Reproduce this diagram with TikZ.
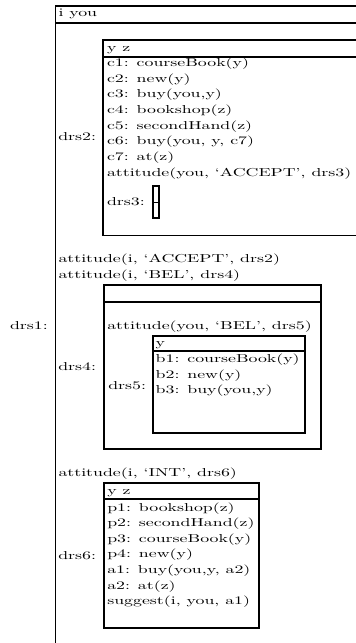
\documentclass[tikz,border=0pt]{standalone}
\usepackage{fontspec}
\setmainfont{lmroman10-regular.otf}[FakeStretch=1.55]
\begin{document}
\begin{tikzpicture}[x=1pt,y=-1pt,line width=1.8pt,
  txt/.style={anchor=base west,inner sep=0pt,outer sep=0pt,font=\fontsize{11.5}{13}\selectfont},
  box/.style={draw,line width=1.8pt}]
\useasboundingbox (0,0) rectangle (356,643);
\clip (0,0) rectangle (356,643);
% drs1 outer box
\draw[box] (380,5.8) -- (55.5,5.8) -- (55.5,670);
\draw[box] (55.5,22.7) -- (380,22.7);
\node[txt] (h1) at (58.5,16) {i you};
\node[txt] (l1) at (10,329) {drs1:};
% drs2
\draw[box] (380,40) -- (103.3,40) -- (103.3,235.5) -- (380,235.5);
\draw[box] (103.3,56.7) -- (380,56.7);
\node[txt] (l2) at (58.3,140.7) {drs2:};
\node[txt] (h2) at (107,51) {y z};
\node[txt] (c1) at (107,66.5) {c1: courseBook(y)};
\node[txt] (c2) at (107,82.2) {c2: new(y)};
\node[txt] (c3) at (107,97.8) {c3: buy(you,y)};
\node[txt] (c4) at (107,113.5) {c4: bookshop(z)};
\node[txt] (c5) at (107,129.1) {c5: secondHand(z)};
\node[txt] (c6) at (107,144.8) {c6: buy(you, y, c7)};
\node[txt] (c7) at (107,160.4) {c7: at(z)};
\node[txt] (c8) at (107,176.1) {attitude(you, ‘ACCEPT’, drs3)};
\node[txt] (l3) at (107,205.3) {drs3:};
% drs3
\draw[box] (153.3,186) rectangle (159.3,218.3);
\draw[box] (153.3,202.5) -- (159.3,202.5);
% attitudes
\node[txt] (a1) at (58.5,262.5) {attitude(i, ‘ACCEPT’, drs2)};
\node[txt] (a2) at (58.5,278) {attitude(i, ‘BEL’, drs4)};
% drs4
\draw[box] (104.3,285) rectangle (321,449.3);
\draw[box] (104.3,301.7) -- (321,301.7);
\node[txt] (l4) at (58.3,370.7) {drs4:};
\node[txt] (a5) at (107.3,329) {attitude(you, ‘BEL’, drs5)};
% drs5
\draw[box] (153,335.7) rectangle (305,432.7);
\draw[box] (153,351.3) -- (305,351.3);
\node[txt] (l5) at (108.3,389) {drs5:};
\node[txt] (h5) at (155.7,346.7) {y};
\node[txt] (b1) at (155.7,362.3) {b1: courseBook(y)};
\node[txt] (b2) at (155.7,378) {b2: new(y)};
\node[txt] (b3) at (155.7,393.6) {b3: buy(you,y)};
% drs6
\node[txt] (a6) at (58.5,476) {attitude(i, ‘INT’, drs6)};
\draw[box] (104.3,483) rectangle (259,628.3);
\draw[box] (104.3,499) -- (259,499);
\node[txt] (l6) at (58.3,559) {drs6:};
\node[txt] (h6) at (107.3,494.3) {y z};
\node[txt] (p1) at (107.3,511) {p1: bookshop(z)};
\node[txt] (p2) at (107.3,526.6) {p2: secondHand(z)};
\node[txt] (p3) at (107.3,542.2) {p3: courseBook(y)};
\node[txt] (p4) at (107.3,557.8) {p4: new(y)};
\node[txt] (q1) at (107.3,573.4) {a1: buy(you,y, a2)};
\node[txt] (q2) at (107.3,589) {a2: at(z)};
\node[txt] (q3) at (107.3,604.6) {suggest(i, you, a1)};
\end{tikzpicture}
\end{document}
